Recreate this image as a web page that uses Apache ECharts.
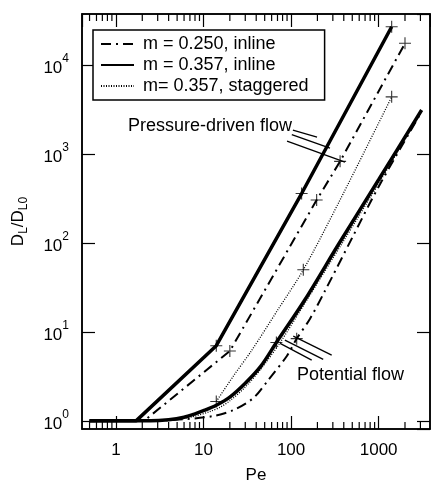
<!DOCTYPE html>
<html>
<head>
<meta charset="utf-8">
<script src="https://cdn.jsdelivr.net/npm/echarts@6/dist/echarts.min.js"></script>
<style>
html, body { margin: 0; padding: 0; background: #fff; }
#chart { width: 431px; height: 482px; }
</style>
</head>
<body>
<div id="chart"></div>
<script>
// axis ranges (log axes)
var xMin = 0.41, xMax = 3860;
var yMin = 0.81, yMax = 37600;

// legend names
var seriesNames = ['m = 0.250, inline', 'm = 0.357, inline', 'm= 0.357, staggered'];

// pressure-driven flow curves [Pe, DL/DL0]
var pressureInline357 = [[0.5, 1], [1.7, 1], [14, 7], [132, 360], [1409, 27000]];
var pressureInline250 = [[0.5, 1], [2.1, 1], [20, 6.1], [196, 304], [363, 828], [2000, 17600]];
var pressureStaggered357 = [[14, 1.65], [22, 3.2], [35.5, 6.2], [70, 17.5], [138, 50], [362, 304], [1409, 4400]];

// potential flow curves
var potentialInline357 = [[0.5, 1], [2.5, 1], [4, 1.03], [6, 1.1], [8, 1.2], [10, 1.3], [14, 1.5], [20, 1.85], [30, 2.65], [45, 4.1], [68, 7.6], [144, 23], [356, 100], [1000, 514], [3100, 3130]];
var potentialStaggered357 = [[2.5, 1], [5, 1.04], [8, 1.13], [12, 1.28], [15.4, 1.42], [20, 1.68], [30, 2.4], [45, 3.8], [75, 7.6], [150, 22.5], [380, 98], [1050, 505], [3100, 3050]];
var potentialInline250 = [[2.5, 1], [5.8, 1.04], [12.8, 1.13], [22, 1.32], [37, 1.8], [53, 2.75], [90, 5.4], [116, 8.4], [164, 14], [244, 29], [500, 115], [1000, 430], [3100, 3000]];

// "+" markers
var crossMarks = [[14, 7], [132, 360], [1409, 27000], [20, 6.1], [196, 304], [363, 828], [2000, 17600],
  [14, 1.65], [138, 50], [1409, 4400], [68, 7.6], [116, 8.4]];

// minor ticks on the Pe axis
var xMinorTicks = [0.5, 0.6, 0.7, 0.8, 0.9, 2, 3, 4, 5, 6, 7, 8, 9, 20, 30, 40, 50, 60, 70, 80, 90,
  200, 300, 400, 500, 600, 700, 800, 900, 2000, 3000];

// leader lines for the annotations
var pressureLeaders = [[[105, 1862], [198, 1553]], [[102, 1657], [278, 1167]], [[90, 1400], [413, 813]]];
var potentialLeaders = [[[75, 7.43], [172, 4.82]], [[85, 8.09], [233, 4.91]], [[106, 8.97], [291, 5.48]]];

var FONT = '"Liberation Sans", Arial, sans-serif';

var dashDot = [10, 5, 2, 5];
var dotted = [1, 1.5];

function curve(name, data, width, type, smooth) {
  return {
    name: name,
    type: 'line',
    data: data,
    symbol: 'none',
    smooth: smooth,
    lineStyle: { color: '#000', width: width, type: type },
    itemStyle: { color: '#000' },
    z: 3
  };
}

var myChart = echarts.init(document.getElementById('chart'));

var leaderData = [];
for (var i = 0; i < pressureLeaders.length; i++) leaderData.push({ coords: pressureLeaders[i] });
for (var j = 0; j < potentialLeaders.length; j++) leaderData.push({ coords: potentialLeaders[j] });

var option = {
  animation: false,
  backgroundColor: '#fff',
  textStyle: { fontFamily: FONT },
  grid: {
    left: 82, right: 1, top: 14, bottom: 53,
    outerBoundsMode: 'none',
    show: true, borderColor: '#000', borderWidth: 1.5
  },
  legend: {
    data: seriesNames,
    orient: 'vertical',
    left: 93, top: 30,
    itemWidth: 33, itemHeight: 14, itemGap: 3,
    padding: [5, 16, 5, 7],
    borderColor: '#000', borderWidth: 1.5,
    backgroundColor: '#fff',
    itemStyle: { opacity: 0 },
    textStyle: { fontSize: 18, color: '#000', fontFamily: FONT, padding: [0, 0, 0, 4] }
  },
  xAxis: [{
    type: 'log', logBase: 10, min: xMin, max: xMax,
    name: 'Pe', nameLocation: 'middle', nameGap: 38,
    nameTextStyle: { fontSize: 17, color: '#000', fontFamily: FONT },
    axisLine: { lineStyle: { color: '#000', width: 1.5 } },
    axisTick: { inside: true, length: 13, lineStyle: { color: '#000', width: 1.2 } },
    axisLabel: {
      fontSize: 17, color: '#000', margin: 13, fontFamily: FONT,
      showMinLabel: false, showMaxLabel: false,
      formatter: function (v) { return String(Math.round(v)); }
    },
    splitLine: { show: false }
  }, {
    type: 'log', logBase: 10, min: xMin, max: xMax, position: 'top',
    axisLine: { lineStyle: { color: '#000', width: 1.5 } },
    axisTick: { inside: true, length: 13, lineStyle: { color: '#000', width: 1.2 } },
    axisLabel: { show: false },
    splitLine: { show: false }
  }],
  yAxis: [{
    type: 'log', logBase: 10, min: yMin, max: yMax,
    name: '{n|D}{sub|L}{n|/D}{sub|L0}',
    nameLocation: 'middle', nameGap: 52, nameRotate: 90,
    nameTextStyle: {
      color: '#000',
      rich: {
        n: { fontSize: 17, lineHeight: 24, fontFamily: FONT, color: '#000' },
        sub: { fontSize: 12, lineHeight: 12, verticalAlign: 'bottom', fontFamily: FONT, color: '#000' }
      }
    },
    axisLine: { lineStyle: { color: '#000', width: 1.5 } },
    axisTick: { inside: true, length: 13, lineStyle: { color: '#000', width: 1.2 } },
    axisLabel: {
      margin: 13, showMinLabel: false, showMaxLabel: false,
      formatter: function (v) {
        var e = Math.round(Math.log(v) / Math.LN10);
        return '{b|10}{s|' + e + '}';
      },
      rich: {
        b: { fontSize: 17, lineHeight: 24, verticalAlign: 'bottom', fontFamily: FONT, color: '#000' },
        s: { fontSize: 12, lineHeight: 12, verticalAlign: 'top', fontFamily: FONT, color: '#000' }
      }
    },
    splitLine: { show: false }
  }, {
    type: 'log', logBase: 10, min: yMin, max: yMax, position: 'right',
    axisLine: { lineStyle: { color: '#000', width: 1.5 } },
    axisTick: { inside: true, length: 13, lineStyle: { color: '#000', width: 1.2 } },
    axisLabel: { show: false },
    splitLine: { show: false }
  }],
  graphic: [{
    type: 'text', left: 128, top: 117, z: 10,
    style: { text: 'Pressure-driven flow', font: '18px ' + FONT, fill: '#000' }
  }, {
    type: 'text', left: 297, top: 366, z: 10,
    style: { text: 'Potential flow', font: '18px ' + FONT, fill: '#000' }
  }],
  series: [
    curve(seriesNames[0], pressureInline250, 2, dashDot, false),
    curve(seriesNames[1], pressureInline357, 3.5, 'solid', false),
    curve(seriesNames[2], pressureStaggered357, 1.3, dotted, 0.3),
    curve(seriesNames[0], potentialInline250, 2, dashDot, 0.3),
    curve(seriesNames[1], potentialInline357, 3.5, 'solid', 0.3),
    curve(seriesNames[2], potentialStaggered357, 1.3, dotted, 0.3),
    {
      name: 'marks',
      type: 'scatter',
      data: crossMarks,
      symbol: 'path://M0,6H12M6,0V12',
      symbolSize: 12,
      itemStyle: { color: '#000', borderColor: '#000', borderWidth: 1.1 },
      silent: true,
      z: 4
    },
    {
      name: 'leaders',
      type: 'lines',
      coordinateSystem: 'cartesian2d',
      data: leaderData,
      lineStyle: { color: '#000', width: 1.3, opacity: 1 },
      silent: true,
      z: 5
    },
    {
      name: 'minorTicks',
      type: 'custom',
      data: xMinorTicks.map(function (v) { return [v, 1]; }),
      encode: { x: 0, y: 1 },
      silent: true,
      clip: false,
      renderItem: function (params, api) {
        var v = api.value(0);
        var b = api.coord([v, yMin]);
        var t = api.coord([v, yMax]);
        return {
          type: 'group',
          children: [{
            type: 'line',
            shape: { x1: b[0], y1: b[1], x2: b[0], y2: b[1] - 7 },
            style: { stroke: '#000', lineWidth: 1.2 }
          }, {
            type: 'line',
            shape: { x1: t[0], y1: t[1], x2: t[0], y2: t[1] + 7 },
            style: { stroke: '#000', lineWidth: 1.2 }
          }]
        };
      }
    }
  ]
};
myChart.setOption(option);
</script>
</body>
</html>
